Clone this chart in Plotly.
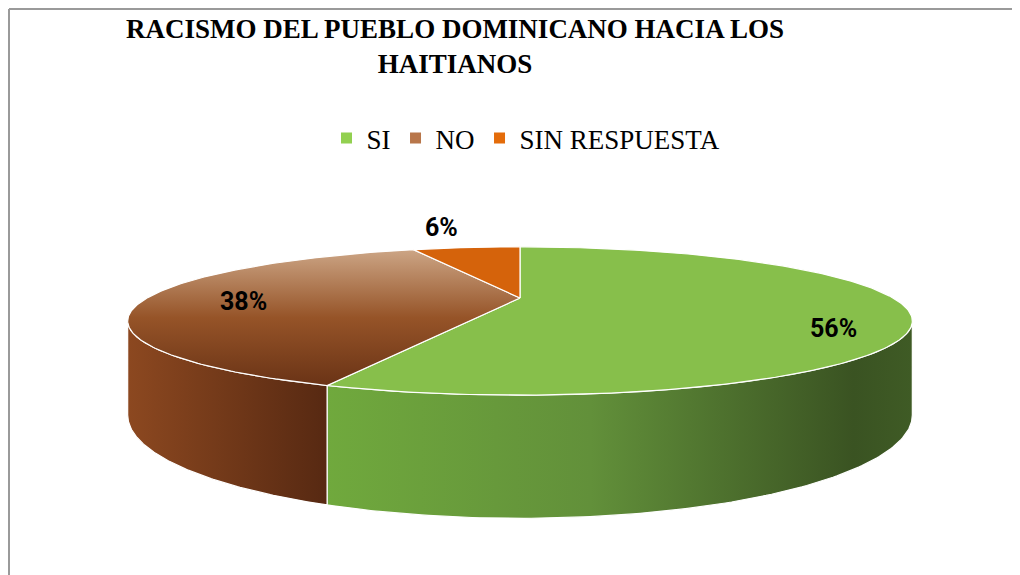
import numpy as np
import plotly.graph_objects as go

# ---------------- data ----------------
categories = ["SI", "NO", "SIN RESPUESTA"]
values = [56, 38, 6]
label_text = ["56%", "38%", "6%"]
title_text = "RACISMO DEL PUEBLO DOMINICANO HACIA LOS<br>HAITIANOS"

# ---------------- styling ----------------
legend_colors = ["#92D050", "#B8764A", "#E46C0A"]
top_fill = {
    "SI": dict(color="#87BF4B"),
    "NO": dict(gradient=dict(type="vertical", colorscale=[[0, "#CCA585"], [0.5, "#965428"], [1, "#6A3316"]])),
    "SIN RESPUESTA": dict(color="#D5630B"),
}
side_fill = {
    "SI": [[0, "#70A93D"], [0.45, "#62903A"], [0.9, "#3A5322"], [1, "#3F5B25"]],
    "NO": [[0, "#8C4820"], [1, "#572912"]],
    "SIN RESPUESTA": [[0, "#A84C08"], [1, "#8A3E06"]],
}
label_radius = [0.815, 0.74, 1.33]
label_shift = [(0, -20), (0, -3), (-12, 8)]

# page offset (browser body margin) so that axis units equal screen pixels
OFF = 8
W, HT = 1020, 575

# pseudo-3D geometry (screen pixel space)
CX, CY = 520, 298
R, RY, H, P = 373, 67, 85, 0.31


def proj(theta, r=1.0, z=0.0):
    u, v = r * np.cos(theta), r * np.sin(theta)
    s = 1.0 / (1.0 - P * v)
    return CX + R * u * s, CY + (RY * v + H * z) * s


total = float(sum(values))
cum = np.concatenate([[0], np.cumsum(values)]) / total
starts = -np.pi / 2 + 2 * np.pi * cum[:-1]
ends = -np.pi / 2 + 2 * np.pi * cum[1:]

fig = go.Figure()

# visible side band (front)
vis_lo, vis_hi = np.arcsin(P), np.pi - np.arcsin(P)
for cat, a0, a1 in zip(categories, starts, ends):
    lo, hi = max(a0, vis_lo), min(a1, vis_hi)
    if hi <= lo:
        continue
    t = np.linspace(lo, hi, 120)
    xt, yt = proj(t, 1, 0)
    xb, yb = proj(t[::-1], 1, 1)
    xs = np.concatenate([xt, xb, xt[:1]])
    ys = np.concatenate([yt, yb, yt[:1]])
    fig.add_trace(go.Scatter(
        x=xs, y=ys, mode="lines", fill="toself",
        line=dict(color="white", width=1.2),
        fillgradient=dict(type="horizontal", colorscale=side_fill[cat],
                          start=float(xs.min()), stop=float(xs.max())),
        hoverinfo="skip", showlegend=False))

# top faces
for cat, a0, a1 in zip(categories, starts, ends):
    t = np.linspace(a0, a1, 200)
    xa, ya = proj(t, 1, 0)
    xs = np.concatenate([[CX], xa, [CX]])
    ys = np.concatenate([[CY], ya, [CY]])
    spec = top_fill[cat]
    kw = {}
    if "gradient" in spec:
        g = spec["gradient"]
        kw["fillgradient"] = dict(type=g["type"], colorscale=g["colorscale"],
                                  start=float(ys.min()), stop=float(ys.max()))
    else:
        kw["fillcolor"] = spec["color"]
    fig.add_trace(go.Scatter(
        x=xs, y=ys, mode="lines", fill="toself",
        line=dict(color="white", width=1.2),
        hoverinfo="skip", showlegend=False, **kw))

# legend entries
for cat, col in zip(categories, legend_colors):
    fig.add_trace(go.Scatter(
        x=[None], y=[None], mode="markers", name=cat,
        marker=dict(symbol="square", size=11, color=col)))

# data labels
for txt, a0, a1, rr, (xsh, ysh) in zip(label_text, starts, ends, label_radius, label_shift):
    mid = (a0 + a1) / 2
    lx, ly = proj(mid, rr, 0)
    fig.add_annotation(x=float(lx), y=float(ly), text=f"<b>{txt}</b>", showarrow=False,
                       xshift=xsh, yshift=ysh,
                       font=dict(family="Liberation Sans Narrow, Roboto, sans-serif",
                                 size=25, color="black"))


def px_x(x):
    return (x - OFF) / (W - OFF)


def px_y(y):
    return 1 - (y - OFF) / (HT - OFF)


fig.update_layout(
    width=W - OFF, height=HT - OFF, autosize=False,
    margin=dict(l=0, r=0, t=0, b=0),
    paper_bgcolor="white", plot_bgcolor="white",
    title=dict(text=title_text, x=px_x(455), xanchor="center",
               y=px_y(38), yanchor="top", yref="container",
               font=dict(family="Liberation Serif, Times New Roman, serif",
                         size=27, color="black", weight="bold")),
    xaxis=dict(range=[OFF, W], visible=False, fixedrange=True),
    yaxis=dict(range=[HT, OFF], visible=False, fixedrange=True),
    legend=dict(orientation="h", x=px_x(526), xanchor="center",
                y=px_y(114), yanchor="top",
                font=dict(family="Liberation Serif, Times New Roman, serif",
                          size=27, color="black"),
                bgcolor="rgba(0,0,0,0)", itemwidth=30, tracegroupgap=0),
    shapes=[
        dict(type="line", xref="x", yref="y", x0=9, y0=9, x1=W, y1=9,
             line=dict(color="#9A9A9A", width=2)),
        dict(type="line", xref="x", yref="y", x0=9, y0=9, x1=9, y1=HT,
             line=dict(color="#9A9A9A", width=2)),
    ],
)

fig.write_html("out.html")
